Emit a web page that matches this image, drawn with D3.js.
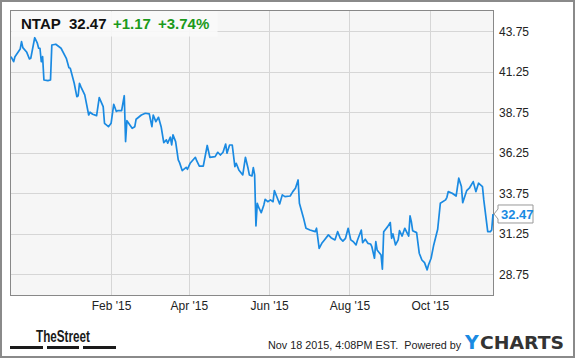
<!DOCTYPE html>
<html>
<head>
<meta charset="utf-8">
<script src="https://cdn.jsdelivr.net/npm/d3@7"></script>
<style>
  body { margin: 0; background: #fff; }
  svg { display: block; font-family: "Liberation Sans", Arial, sans-serif; }
</style>
</head>
<body>
<script>
// NTAP daily close
const dates = [
  '2014-11-17','2014-11-19','2014-11-20','2014-11-24','2014-11-25','2014-11-26','2014-11-29','2014-12-01','2014-12-02','2014-12-05',
  '2014-12-07','2014-12-08','2014-12-09','2014-12-10','2014-12-11','2014-12-12','2014-12-15','2014-12-17','2014-12-18','2014-12-21',
  '2014-12-25','2014-12-29','2014-12-31','2015-01-01','2015-01-04','2015-01-06','2015-01-07','2015-01-08','2015-01-09','2015-01-12',
  '2015-01-15','2015-01-16','2015-01-18','2015-01-21','2015-01-23','2015-01-26','2015-01-27','2015-01-30','2015-02-01','2015-02-03',
  '2015-02-05','2015-02-06','2015-02-09','2015-02-11','2015-02-12','2015-02-13','2015-02-17','2015-02-19','2015-02-20','2015-02-24',
  '2015-02-27','2015-03-02','2015-03-04','2015-03-05','2015-03-07','2015-03-09','2015-03-11','2015-03-13','2015-03-15','2015-03-16',
  '2015-03-18','2015-03-19','2015-03-20','2015-03-22','2015-03-24','2015-03-25','2015-03-27','2015-03-30','2015-03-31','2015-04-02',
  '2015-04-06','2015-04-07','2015-04-09','2015-04-12','2015-04-15','2015-04-17','2015-04-21','2015-04-23','2015-04-25','2015-04-27',
  '2015-04-29','2015-04-30','2015-05-02','2015-05-04','2015-05-06','2015-05-07','2015-05-09','2015-05-12','2015-05-14','2015-05-16',
  '2015-05-17','2015-05-19','2015-05-20','2015-05-21','2015-05-22','2015-05-23','2015-05-24','2015-05-26','2015-05-28','2015-05-29',
  '2015-05-31','2015-06-02','2015-06-04','2015-06-05','2015-06-07','2015-06-09','2015-06-11','2015-06-13','2015-06-17','2015-06-19',
  '2015-06-21','2015-06-23','2015-06-24','2015-06-27','2015-06-29','2015-07-02','2015-07-06','2015-07-07','2015-07-09','2015-07-11',
  '2015-07-13','2015-07-16','2015-07-18','2015-07-21','2015-07-23','2015-07-25','2015-07-27','2015-07-29','2015-07-31','2015-08-02',
  '2015-08-04','2015-08-06','2015-08-07','2015-08-10','2015-08-11','2015-08-13','2015-08-15','2015-08-17','2015-08-18','2015-08-20',
  '2015-08-21','2015-08-22','2015-08-25','2015-08-26','2015-08-27','2015-08-30','2015-09-01','2015-09-02','2015-09-03','2015-09-05',
  '2015-09-07','2015-09-08','2015-09-10','2015-09-12','2015-09-15','2015-09-16','2015-09-17','2015-09-18','2015-09-21','2015-09-23',
  '2015-09-25','2015-09-27','2015-09-29','2015-09-30','2015-10-02','2015-10-04','2015-10-07','2015-10-09','2015-10-13','2015-10-14',
  '2015-10-15','2015-10-18','2015-10-21','2015-10-23','2015-10-25','2015-10-26','2015-10-29','2015-10-31','2015-11-03','2015-11-05',
  '2015-11-07','2015-11-10','2015-11-11','2015-11-14','2015-11-16','2015-11-17','2015-11-18'
];
const prices = [
  42.18,41.87,42.18,42.66,43.11,42.74,42.45,42.04,42.08,43.35,
  43.01,42.70,42.70,41.87,42.18,40.74,40.70,40.74,42.90,42.95,
  42.70,42.08,41.50,41.47,40.54,39.71,39.77,40.54,40.33,39.82,
  38.58,38.75,38.63,38.54,39.65,39.10,38.07,37.86,38.07,39.24,
  38.80,38.85,38.85,39.77,36.94,38.23,37.76,37.86,38.32,38.58,
  38.69,38.65,37.86,38.58,38.17,38.44,37.86,36.87,37.04,36.84,
  37.21,36.73,37.35,36.94,35.81,35.64,35.15,35.35,35.23,35.60,
  35.97,35.76,35.43,35.43,36.70,35.97,36.01,36.28,36.11,36.28,
  36.79,36.22,36.73,36.73,35.39,35.60,35.19,34.88,35.97,35.29,
  34.88,34.82,35.33,34.88,31.73,33.13,32.89,32.55,33.03,33.38,
  33.23,33.34,33.23,33.91,33.50,33.09,33.65,33.54,33.58,33.85,
  34.06,34.57,33.13,32.26,31.59,31.48,31.38,31.59,30.35,30.66,
  30.87,31.18,31.01,30.87,31.38,30.97,30.80,30.97,31.59,30.87,
  30.76,30.56,30.83,31.48,30.70,30.91,30.66,30.62,30.45,29.74,
  30.76,30.25,29.94,29.06,31.38,31.69,31.94,30.97,31.24,30.56,
  30.87,31.44,31.11,31.59,31.11,32.35,32.00,31.44,31.32,30.05,
  29.63,29.47,29.02,29.32,29.74,30.56,31.53,33.13,33.34,33.50,
  33.85,33.75,33.58,34.68,34.16,33.17,33.91,34.06,34.47,33.85,
  34.37,34.16,33.34,31.38,31.38,31.48,32.47
];
const yTicks = [28.75, 31.25, 33.75, 36.25, 38.75, 41.25, 43.75];
const xTicks = ['2015-02-01', '2015-04-01', '2015-06-01', '2015-08-01', '2015-10-01'];
const ticker = 'NTAP';
const lastPrice = 32.47;
const change = '+1.17';
const changePct = '+3.74%';

const W = 575, H = 358;
const plot = {left: 11, top: 11, right: 493, bottom: 295};

const parse = d3.timeParse('%Y-%m-%d');
const data = dates.map((d, i) => ({date: parse(d), price: prices[i]}));

const x = d3.scaleTime()
  .domain([parse('2014-11-17'), parse('2015-11-18')])
  .range([plot.left, plot.right]);
const y = d3.scaleLinear()
  .domain([27.47, 45.0])
  .range([plot.bottom, plot.top]);

const svg = d3.select('body').append('svg')
  .attr('width', W)
  .attr('height', H);

// outer frame
svg.append('rect')
  .attr('x', 1).attr('y', 1)
  .attr('width', W - 2).attr('height', H - 2)
  .attr('fill', '#fff')
  .attr('stroke', '#8a8a8a')
  .attr('stroke-width', 2);

// plot background
svg.append('rect')
  .attr('x', plot.left).attr('y', plot.top)
  .attr('width', plot.right - plot.left).attr('height', plot.bottom - plot.top)
  .attr('fill', '#f6f6f6');

// grid
svg.append('g')
  .selectAll('line')
  .data(yTicks)
  .join('line')
  .attr('x1', plot.left).attr('x2', plot.right)
  .attr('y1', d => Math.round(y(d)) + 0.5).attr('y2', d => Math.round(y(d)) + 0.5)
  .attr('stroke', '#d6d6d6');
svg.append('g')
  .selectAll('line')
  .data(xTicks)
  .join('line')
  .attr('x1', d => Math.round(x(parse(d))) + 0.5).attr('x2', d => Math.round(x(parse(d))) + 0.5)
  .attr('y1', plot.top).attr('y2', plot.bottom)
  .attr('stroke', '#d6d6d6');

// axes labels
const yAxis = d3.axisRight(y)
  .tickValues(yTicks)
  .tickFormat(d3.format('.2f'))
  .tickSize(0)
  .tickPadding(6);
svg.append('g')
  .attr('transform', 'translate(' + plot.right + ',0)')
  .call(yAxis)
  .call(g => g.select('.domain').remove())
  .selectAll('text')
    .style('font-family', '"Liberation Sans", Arial, sans-serif')
    .style('font-size', '12px')
    .attr('fill', '#222');

const monthFmt = d3.timeFormat("%b '%y");
const xAxis = d3.axisBottom(x)
  .tickValues(xTicks.map(parse))
  .tickFormat(monthFmt)
  .tickSize(0)
  .tickPadding(6);
svg.append('g')
  .attr('transform', 'translate(0,' + plot.bottom + ')')
  .call(xAxis)
  .call(g => g.select('.domain').remove())
  .selectAll('text')
    .style('font-family', '"Liberation Sans", Arial, sans-serif')
    .style('font-size', '12px')
    .attr('fill', '#222');

// plot border
svg.append('rect')
  .attr('x', plot.left - 0.5).attr('y', plot.top - 0.5)
  .attr('width', plot.right - plot.left + 1).attr('height', plot.bottom - plot.top + 1)
  .attr('fill', 'none')
  .attr('stroke', '#888');

// price line
const line = d3.line()
  .x(d => x(d.date))
  .y(d => y(d.price));
svg.append('path')
  .datum(data)
  .attr('d', line)
  .attr('fill', 'none')
  .attr('stroke', '#1a8ae2')
  .attr('stroke-width', 1.7)
  .attr('stroke-linejoin', 'round');

// header box
svg.append('rect')
  .attr('x', plot.left + 0.5).attr('y', plot.top + 0.5)
  .attr('width', 206).attr('height', 25)
  .attr('fill', '#fafafa')
  .attr('fill-opacity', 0.9);
const header = svg.append('text')
  .attr('x', 21).attr('y', 29)
  .style('font-size', '15px')
  .style('font-weight', 'bold');
header.append('tspan').text(ticker).attr('fill', '#111');
header.append('tspan').attr('x', 69).text(lastPrice.toFixed(2)).attr('fill', '#111');
header.append('tspan').attr('x', 113).text(change).attr('fill', '#1b9a1b');
header.append('tspan').attr('x', 158).text(changePct).attr('fill', '#1b9a1b');

// last price flag
const ly = y(lastPrice);
svg.append('path')
  .attr('d', 'M' + (plot.right + 1) + ',' + ly +
       ' L' + (plot.right + 5) + ',' + (ly - 5) +
       ' L' + (plot.right + 5) + ',' + (ly - 9) +
       ' L' + (plot.right + 40) + ',' + (ly - 9) +
       ' L' + (plot.right + 40) + ',' + (ly + 9) +
       ' L' + (plot.right + 5) + ',' + (ly + 9) +
       ' L' + (plot.right + 5) + ',' + (ly + 5) + ' Z')
  .attr('fill', '#fff')
  .attr('stroke', '#999');
svg.append('text')
  .attr('x', plot.right + 8).attr('y', ly + 5)
  .text(lastPrice.toFixed(2))
  .attr('fill', '#1a8ae2')
  .style('font-size', '13px')
  .style('font-weight', 'bold');

// footer: TheStreet logo
svg.append('text')
  .attr('x', 36).attr('y', 342)
  .text('TheStreet')
  .attr('textLength', 54)
  .attr('lengthAdjust', 'spacingAndGlyphs')
  .style('font-family', '"Liberation Sans Narrow", "Liberation Sans", sans-serif')
  .style('font-size', '17px')
  .style('font-weight', 'bold')
  .attr('fill', '#1a1a1a');
svg.append('g')
  .selectAll('rect')
  .data([[10, 43], [47, 79], [83, 116]])
  .join('rect')
  .attr('x', d => d[0]).attr('y', 346)
  .attr('width', d => d[1] - d[0]).attr('height', 3)
  .attr('fill', '#1a1a1a');

// footer: timestamp + YCharts
svg.append('text')
  .attr('x', 268).attr('y', 349)
  .text('Nov 18 2015, 4:08PM EST.  Powered by')
  .style('white-space', 'pre')
  .style('font-size', '10.8px')
  .attr('fill', '#222');
svg.append('text')
  .attr('x', 465).attr('y', 349)
  .text('Y')
  .style('font-family', '"DejaVu Sans", sans-serif')
  .style('font-size', '19px')
  .style('font-weight', 'bold')
  .attr('fill', '#1a8ae2');
svg.append('text')
  .attr('x', 480).attr('y', 349)
  .text('CHARTS')
  .attr('textLength', 84)
  .attr('lengthAdjust', 'spacingAndGlyphs')
  .style('font-family', '"DejaVu Sans", sans-serif')
  .style('font-size', '18px')
  .style('font-weight', 'bold')
  .attr('fill', '#333');
</script>
</body>
</html>
